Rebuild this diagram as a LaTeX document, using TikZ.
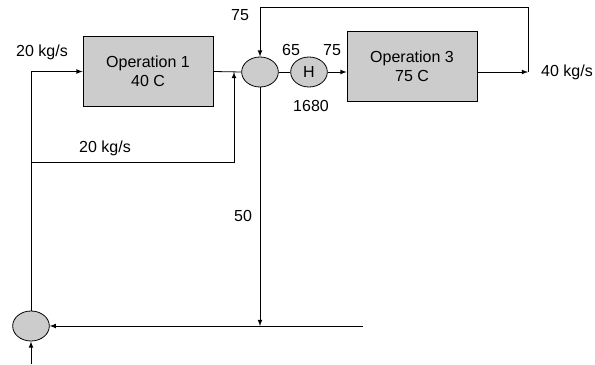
\documentclass[tikz,border=0pt]{standalone}
\usepackage{fontspec}
\setmainfont{Liberation Sans}
\usetikzlibrary{shapes,arrows,positioning,calc}

\begin{document}
\begin{tikzpicture}[x=0.75pt, y=-0.75pt, >=latex, line width=0.6pt,
        every node/.style={font=\fontsize{12}{14}\selectfont},
        opbox/.style={draw, fill=gray!40, align=center, inner sep=0pt, minimum width=97.5pt, minimum height=52pt},
        unit/.style={draw, ellipse, fill=gray!40, inner sep=0pt, minimum width=27.5pt, minimum height=22.5pt}]
        \useasboundingbox (0,0) rectangle (595,364);

        \node[opbox] (op1) at (148,71.5) {Operation 1\\40 C};
        \node[unit] (mix) at (260,72) {};
        \node[unit] (heat) at (309,72) {H};
        \node[opbox] (op3) at (412,66.5) {Operation 3\\75 C};
        \node[unit] (split) at (31,326) {};

        \coordinate (tap) at (31,162);
        \coordinate (join) at (234,72);
        \coordinate (out) at (528,72);
        \coordinate (top) at (528,7);
        \coordinate (ret) at (363,326);
        \coordinate (feed) at (31,364);

        \draw[->] (split.north) |- (op1.west);
        \draw (op1.east) -- (mix.west);
        \draw[->] (tap) -| (join);
        \draw (mix.east) -- (heat.west);
        \draw[->] (heat.east) -- (op3.west |- heat);
        \draw[->] (op3.east |- out) -- (out);
        \draw[->] (out) -- (top) -| (mix.north);
        \draw[->] (mix.south) -- (mix.south |- split);
        \draw[->] (ret) -- (split.east);
        \draw[->] (feed) -- (split.south);

        % Labels
        \node (fin) at (42,52) {20 kg/s};
        \node (fby) at (105,148) {20 kg/s};
        \node (trec) at (240,15) {75};
        \node (tin) at (291,50) {65};
        \node (tout) at (332,50) {75};
        \node (duty) at (311,106) {1680};
        \node (fout) at (567,72) {40 kg/s};
        \node (fdown) at (243,216) {50};
    \end{tikzpicture}
\end{document}
